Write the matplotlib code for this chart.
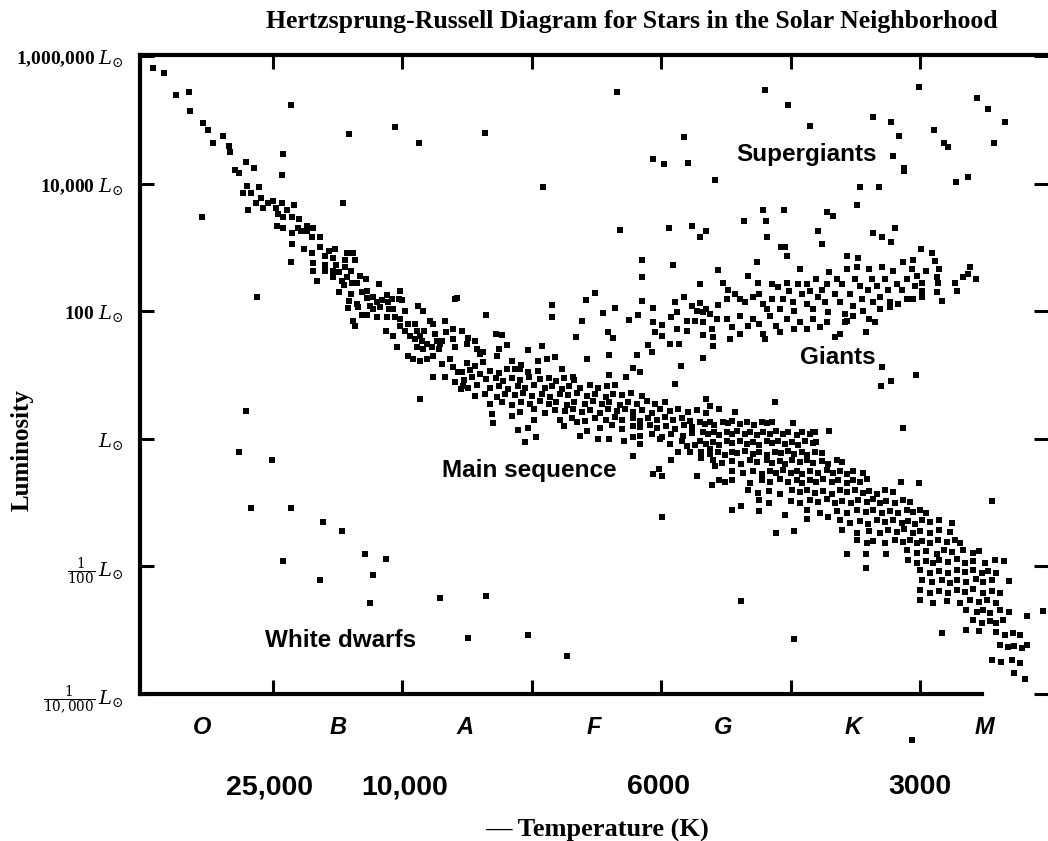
import numpy as np
import matplotlib
matplotlib.use('Agg')
import matplotlib.pyplot as plt
import matplotlib.transforms as mtransforms
from matplotlib.ticker import FixedLocator, NullLocator

plt.rcParams['mathtext.fontset'] = 'dejavuserif'

# spectral position (O=0 .. M=7, one unit per class) and log10(L / Lsun)
ms_upper = [
    (0.07, 5.81), (0.16, 5.73), (0.25, 5.39), (0.35, 5.44), (0.36, 5.14), (0.46, 4.95), (0.50, 4.84), (0.61, 4.75),
    (0.54, 4.63), (0.66, 4.59), (0.67, 4.50), (0.79, 4.34), (0.71, 4.22), (0.74, 4.16), (0.85, 4.25), (0.80, 3.97),
    (0.77, 3.86), (0.83, 3.86), (0.89, 3.95), (0.81, 3.58), (0.87, 3.70), (0.91, 3.78), (0.92, 3.61), (0.96, 3.70),
    (1.00, 3.73), (1.02, 3.61), (1.04, 3.53), (1.07, 3.69), (1.08, 3.47), (1.11, 3.58), (1.16, 3.67), (1.15, 3.47),
    (1.20, 3.45), (1.03, 3.34), (1.08, 3.31), (1.15, 3.22), (1.19, 3.31), (1.22, 3.25), (1.26, 3.34), (1.26, 3.25),
    (1.31, 3.30), (1.30, 3.16), (1.36, 3.16), (1.15, 3.05), (1.24, 2.98), (1.30, 2.92), (1.36, 3.00), (1.14, 2.77),
    (1.31, 2.75), (1.31, 2.63), (1.34, 2.47), (1.40, 2.86), (1.40, 2.73), (1.43, 2.94), (1.48, 2.98), (1.46, 2.84),
    (1.49, 2.73), (1.40, 2.63), (1.46, 2.63), (1.46, 2.53), (1.51, 2.61), (1.53, 2.47), (1.57, 2.92), (1.62, 2.92),
    (1.63, 2.80), (1.56, 2.81), (1.56, 2.69), (1.60, 2.63), (1.57, 2.53), (1.61, 2.45), (1.67, 2.55), (1.72, 2.50),
    (1.65, 2.45), (1.55, 2.41), (1.51, 2.30), (1.60, 2.27), (1.59, 2.16), (1.58, 2.05), (1.65, 2.11), (1.66, 2.06),
    (1.69, 2.30), (1.73, 2.31), (1.73, 2.20), (1.77, 2.23), (1.82, 2.42), (1.80, 2.14), (1.75, 2.08), (1.77, 2.03),
    (1.83, 2.06), (1.84, 2.17), (1.88, 2.25), (1.89, 2.14), (1.92, 2.19), (1.93, 2.03), (1.97, 2.19), (1.98, 2.31),
    (2.00, 2.17), (2.02, 2.00), (1.90, 2.03), (1.69, 1.94), (1.73, 1.94), (1.80, 1.91), (1.88, 1.91), (1.94, 1.91),
    (1.98, 1.88), (1.62, 1.84), (1.63, 1.77), (1.87, 1.69), (1.93, 1.61), (1.96, 1.44), (1.98, 1.77), (2.02, 1.69),
    (2.04, 1.80), (2.06, 1.61), (2.10, 1.80), (2.12, 2.08), (2.16, 2.00), (2.11, 1.69), (2.10, 1.56), (2.14, 1.61),
    (2.15, 1.53), (2.17, 1.69), (2.19, 1.48), (2.21, 1.84), (2.24, 1.80), (2.25, 1.64), (2.27, 1.53), (2.29, 1.48),
    (2.33, 1.84), (2.34, 1.67), (2.39, 1.72), (2.39, 1.56), (2.41, 2.19), (2.11, 1.44), (2.16, 1.41), (2.23, 1.44),
    (2.28, 1.41), (2.31, 1.53), (2.41, 1.44),
]

ms_middle = [
    (2.04, 1.30), (2.08, 1.25), (2.14, 1.22), (2.19, 1.25), (2.24, 1.30), (2.31, 1.17), (2.37, 1.25), (2.39, 1.13),
    (2.43, 1.05), (2.41, 0.89), (2.45, 0.78), (2.47, 0.83), (2.24, 0.97), (2.33, 0.97), (2.14, 0.63),
    (2.46, 1.69), (2.50, 1.48), (2.56, 1.53), (2.58, 1.41), (2.62, 1.36), (2.72, 1.64), (2.77, 1.63), (2.81, 1.47),
    (2.75, 1.41), (2.73, 1.30), (2.51, 1.58), (2.60, 1.33), (2.85, 1.22), (2.81, 1.09), (2.87, 1.09), (2.42, 2.20),
    (2.65, 1.94),
    (2.50, 1.19), (2.56, 1.14), (2.62, 1.20), (2.92, 1.15),
    (2.46, 1.04), (2.52, 1.08), (2.60, 1.02), (2.68, 1.07), (2.75, 1.03), (2.91, 1.09), (2.97, 1.04), (3.05, 1.07),
    (2.48, 0.92), (2.54, 0.97), (2.65, 0.93), (2.72, 0.96), (2.78, 0.91), (2.85, 0.95), (2.91, 0.92), (2.98, 0.97),
    (3.06, 0.93), (3.13, 0.96), (3.19, 0.91), (3.25, 0.95), (3.33, 0.92),
    (2.51, 0.79), (2.58, 0.84), (2.68, 0.80), (2.75, 0.83), (2.82, 0.78), (2.89, 0.82), (2.95, 0.79), (3.02, 0.84),
    (3.10, 0.80), (3.16, 0.83), (3.23, 0.78), (3.29, 0.82), (3.37, 0.80), (3.45, 0.84), (3.51, 0.79), (3.58, 0.82),
    (2.56, 0.67), (2.64, 0.71), (2.73, 0.66), (2.79, 0.70), (2.87, 0.68), (2.93, 0.72), (3.00, 0.67), (3.08, 0.70),
    (3.14, 0.66), (3.22, 0.71), (3.28, 0.68), (3.35, 0.72), (3.43, 0.67), (3.49, 0.70), (3.57, 0.66), (3.63, 0.71),
    (3.70, 0.68), (3.77, 0.72), (3.85, 0.67),
    (2.68, 0.54), (2.77, 0.58), (2.85, 0.53), (2.92, 0.57), (2.99, 0.55), (3.06, 0.59), (3.13, 0.54), (3.19, 0.57),
    (3.27, 0.53), (3.33, 0.58), (3.41, 0.55), (3.47, 0.59), (3.54, 0.54), (3.60, 0.57), (3.68, 0.53), (3.74, 0.58),
    (3.81, 0.55), (3.89, 0.59), (3.95, 0.54), (4.03, 0.57),
    (2.91, 0.42), (3.02, 0.46), (3.10, 0.41), (3.18, 0.45), (3.26, 0.43), (3.32, 0.47), (3.39, 0.42), (3.45, 0.45),
    (3.53, 0.41), (3.59, 0.46), (3.66, 0.43), (3.72, 0.47), (3.78, 0.42), (3.85, 0.45), (3.93, 0.41), (3.99, 0.46),
    (4.07, 0.43), (4.13, 0.47), (4.21, 0.42), (4.28, 0.45), (4.35, 0.41),
    (3.22, 0.29), (3.31, 0.33), (3.41, 0.28), (3.49, 0.32), (3.57, 0.30), (3.64, 0.34), (3.70, 0.29), (3.78, 0.33),
    (3.84, 0.28), (3.90, 0.32), (3.97, 0.30), (4.03, 0.34), (4.09, 0.29), (4.16, 0.32), (4.22, 0.28),
    (3.53, 0.17), (3.62, 0.21), (3.70, 0.16), (3.78, 0.20), (3.84, 0.18), (3.91, 0.22), (3.97, 0.17), (4.04, 0.20),
    (4.11, 0.16), (4.18, 0.21), (4.24, 0.18),
    (3.84, 0.04), (3.93, 0.08), (4.01, 0.03), (4.08, 0.07), (4.17, 0.05), (4.24, 0.09),
    (4.07, -0.08), (4.16, -0.04), (4.26, -0.09),
    (2.69, 0.39), (2.70, 0.25), (2.85, 0.36), (2.89, 0.14), (2.97, 0.17), (2.95, -0.05), (3.03, 0.03), (3.02, 0.30),
    (3.25, 0.20), (3.35, 0.27), (3.37, 0.05), (3.43, 0.13), (3.51, 0.00), (3.60, 0.00), (3.71, -0.03), (3.78, 0.03),
    (3.84, -0.08), (3.78, -0.27), (3.99, 0.00), (4.08, -0.33), (4.20, -0.11), (4.13, -0.20), (4.22, -0.20),
    (4.31, -0.30), (4.38, -0.16), (4.42, -0.42), (4.28, -0.58), (4.39, -0.73), (3.94, -0.55), (3.98, -0.47),
    (4.01, -0.59), (4.01, -1.22), (4.35, 0.63), (4.38, 0.52),
]

ms_lower = [
    (4.30, 0.27), (4.34, 0.23), (4.38, 0.26), (4.41, 0.22), (4.48, 0.27), (4.52, 0.24), (4.55, 0.28), (4.61, 0.23),
    (4.66, 0.26), (4.72, 0.22), (4.78, 0.27), (4.82, 0.24), (4.86, 0.26),
    (4.32, 0.11), (4.36, 0.07), (4.41, 0.10), (4.45, 0.06), (4.51, 0.11), (4.55, 0.08), (4.59, 0.12), (4.65, 0.07),
    (4.69, 0.10), (4.74, 0.06), (4.79, 0.11), (4.84, 0.08), (4.89, 0.12), (4.94, 0.07), (4.98, 0.10), (5.05, 0.06),
    (5.09, 0.11), (5.15, 0.08), (5.19, 0.10),
    (4.30, -0.04), (4.35, -0.08), (4.40, -0.05), (4.45, -0.09), (4.51, -0.04), (4.55, -0.07), (4.61, -0.03),
    (4.66, -0.08), (4.71, -0.05), (4.76, -0.09), (4.82, -0.04), (4.86, -0.07), (4.90, -0.03), (4.96, -0.08),
    (5.01, -0.05), (5.06, -0.09), (5.11, -0.04), (5.17, -0.07), (5.20, -0.05),
    (4.31, -0.20), (4.38, -0.24), (4.44, -0.21), (4.49, -0.25), (4.55, -0.20), (4.59, -0.23), (4.65, -0.19),
    (4.71, -0.24), (4.76, -0.21), (4.82, -0.25), (4.88, -0.20), (4.93, -0.23), (4.98, -0.19), (5.03, -0.24),
    (5.09, -0.21), (5.13, -0.25), (5.19, -0.20), (5.24, -0.23),
    (4.40, -0.34), (4.47, -0.38), (4.55, -0.35), (4.62, -0.39), (4.69, -0.34), (4.74, -0.37), (4.82, -0.33),
    (4.86, -0.38), (4.92, -0.35), (4.96, -0.39), (5.01, -0.34), (5.07, -0.37), (5.13, -0.33), (5.17, -0.38),
    (5.24, -0.35), (5.29, -0.39), (5.36, -0.34), (5.40, -0.37),
    (4.55, -0.50), (4.63, -0.54), (4.71, -0.51), (4.78, -0.55), (4.84, -0.50), (4.89, -0.53), (4.94, -0.49),
    (5.00, -0.54), (5.05, -0.51), (5.09, -0.55), (5.15, -0.50), (5.21, -0.53), (5.28, -0.49), (5.33, -0.54),
    (5.38, -0.51), (5.44, -0.55), (5.48, -0.50), (5.56, -0.53),
    (4.45, -0.64), (4.49, -0.68), (4.55, -0.65), (4.69, -0.69), (4.78, -0.64), (4.84, -0.67), (4.92, -0.63),
    (4.98, -0.68), (5.05, -0.65), (5.09, -0.69), (5.15, -0.64), (5.20, -0.67), (5.25, -0.63), (5.32, -0.68),
    (5.37, -0.65), (5.44, -0.69), (5.48, -0.64), (5.54, -0.67), (5.59, -0.63), (5.85, -0.68),
    (4.67, -0.81), (4.75, -0.85), (4.83, -0.82), (4.92, -0.86), (5.01, -0.81), (5.07, -0.84), (5.13, -0.80),
    (5.19, -0.85), (5.25, -0.82), (5.32, -0.86), (5.38, -0.81), (5.44, -0.84), (5.50, -0.80), (5.56, -0.85),
    (5.61, -0.82), (5.67, -0.86), (5.73, -0.81), (5.79, -0.84),
    (4.76, -0.96), (4.83, -1.00), (5.00, -0.97), (5.07, -1.01), (5.15, -0.96), (5.21, -0.99), (5.28, -0.95),
    (5.34, -1.00), (5.40, -0.97), (5.47, -1.01), (5.52, -0.96), (5.59, -0.99), (5.64, -0.95), (5.69, -1.00),
    (5.74, -0.97), (5.81, -1.01), (5.87, -0.96), (5.92, -0.99),
    (5.13, -1.12), (5.23, -1.16), (5.36, -1.13), (5.44, -1.17), (5.51, -1.12), (5.58, -1.15), (5.64, -1.11),
    (5.71, -1.16), (5.77, -1.13), (5.83, -1.17), (5.90, -1.12), (5.95, -1.15), (6.00, -1.11), (6.05, -1.16),
    (5.38, -1.28), (5.46, -1.32), (5.54, -1.29), (5.60, -1.33), (5.67, -1.28), (5.73, -1.31), (5.79, -1.27),
    (5.86, -1.32), (5.91, -1.29), (5.96, -1.33), (6.02, -1.28), (6.08, -1.31), (6.15, -1.27), (6.25, -1.32),
    (5.40, -1.43), (5.51, -1.47), (5.61, -1.44), (5.69, -1.48), (5.75, -1.43), (5.82, -1.46), (5.88, -1.42),
    (5.95, -1.47), (6.00, -1.44), (6.08, -1.48), (6.15, -1.43), (6.23, -1.46),
    (5.51, -1.59), (5.59, -1.63), (5.64, -1.60), (5.73, -1.64), (5.81, -1.59), (5.87, -1.62), (5.92, -1.58),
    (5.98, -1.63), (6.02, -1.60), (6.08, -1.64), (6.14, -1.59), (6.21, -1.62), (6.27, -1.58), (6.31, -1.63),
    (5.90, -1.75), (5.98, -1.79), (6.05, -1.76), (6.13, -1.80), (6.19, -1.75), (6.25, -1.78), (6.33, -1.74),
    (6.41, -1.79), (6.46, -1.76),
    (5.91, -1.90), (5.98, -1.94), (6.05, -1.91), (6.10, -1.95), (6.15, -1.90), (6.22, -1.93), (6.29, -1.89),
    (6.35, -1.94), (6.41, -1.91), (6.50, -1.95), (6.58, -1.90),
    (6.00, -2.06), (6.08, -2.10), (6.15, -2.07), (6.22, -2.11), (6.29, -2.06), (6.35, -2.09), (6.41, -2.05),
    (6.48, -2.10), (6.53, -2.07), (6.59, -2.11),
    (6.02, -2.21), (6.09, -2.25), (6.17, -2.22), (6.23, -2.26), (6.29, -2.21), (6.36, -2.24), (6.43, -2.20),
    (6.49, -2.25), (6.56, -2.22),
    (6.00, -2.37), (6.08, -2.41), (6.15, -2.38), (6.22, -2.42), (6.29, -2.37), (6.35, -2.40), (6.41, -2.36),
    (6.49, -2.41), (6.56, -2.38), (6.62, -2.42),
    (6.00, -2.53), (6.10, -2.57), (6.21, -2.54), (6.31, -2.58), (6.39, -2.53), (6.46, -2.56), (6.52, -2.52),
    (6.59, -2.57),
    (6.36, -2.68), (6.44, -2.72), (6.49, -2.69), (6.54, -2.73), (6.62, -2.68), (6.69, -2.71),
    (6.41, -2.84), (6.48, -2.88), (6.54, -2.85), (6.59, -2.89), (6.64, -2.84),
    (6.59, -3.03), (6.66, -3.07), (6.72, -3.04), (6.77, -3.08),
    (6.62, -3.23), (6.68, -3.27), (6.73, -3.24), (6.79, -3.28), (6.83, -3.23),
    (6.56, -3.46), (6.63, -3.50), (6.71, -3.47), (6.77, -3.51), (6.73, -3.67), (6.81, -3.77),
    (4.88, 0.58), (4.45, 0.47), (4.57, 0.42), (5.02, 0.25), (5.17, 0.11), (5.30, 0.13), (4.55, -1.11),
    (4.62, -1.06), (4.76, -1.13), (4.89, -1.47), (5.03, -1.44), (4.96, -1.20), (5.13, -1.25), (5.29, -1.22),
    (5.44, -1.81), (5.58, -1.80), (5.58, -2.02), (5.74, -1.80), (5.99, -0.69), (6.17, -3.05), (6.36, -3.00),
    (6.46, -3.02), (6.65, -1.92), (6.69, -2.23), (6.83, -2.77), (6.95, -2.70), (6.56, -0.97), (5.87, 0.17),
    (5.97, 1.00), (5.71, 1.13), (5.78, 0.91), (5.70, 0.83),
]

giants = [
    (3.85, 2.80), (4.09, 2.72), (4.44, 2.64), (3.85, 2.53), (4.30, 2.42), (3.49, 2.28), (3.42, 2.17), (3.16, 2.09),
    (3.16, 1.91), (3.55, 1.97), (3.64, 2.05), (3.85, 2.16), (3.82, 1.94), (3.75, 1.86), (3.94, 2.05), (3.94, 1.83),
    (4.01, 1.78), (3.95, 1.67), (4.11, 2.14), (4.18, 2.23), (4.12, 1.98), (4.08, 1.91), (4.24, 2.08), (4.30, 2.13),
    (4.28, 2.00), (4.32, 1.98), (4.38, 1.95), (4.43, 1.88), (4.20, 1.84), (4.26, 1.84), (4.32, 1.83), (4.12, 1.72),
    (4.20, 1.69), (4.39, 1.72), (4.40, 1.59), (4.40, 1.45), (4.14, 1.48), (4.07, 1.48), (3.90, 1.47), (3.93, 1.36),
    (3.63, 1.58), (3.59, 1.67), (3.34, 1.59), (3.39, 1.84), (3.43, 1.25), (3.60, 1.31), (3.81, 1.31), (4.32, 1.27),
    (4.15, 1.14), (3.78, 1.11), (3.84, 1.05), (3.60, 1.00), (3.73, 0.97), (4.11, 0.86), (3.64, 0.84), (3.32, 0.97),
    (3.23, 1.09), (3.18, 1.28), (3.12, 1.25), (3.05, 1.22), (2.97, 1.39), (3.08, 1.45), (4.01, 1.61), (4.32, 1.63),
    (4.35, 2.03), (4.44, 2.09),
    (4.53, 1.56), (4.51, 1.88), (4.55, 1.75), (4.61, 1.64), (4.61, 1.92), (4.67, 1.77), (4.71, 1.88), (4.76, 1.80),
    (4.79, 1.64), (4.80, 1.56), (4.84, 1.92), (4.89, 1.77), (4.92, 1.67), (4.97, 1.88), (5.03, 1.72), (5.07, 1.83),
    (5.13, 1.72), (5.17, 1.88), (5.23, 1.75), (5.28, 1.83), (5.38, 1.64), (5.42, 1.83), (5.48, 1.92), (5.58, 1.67),
    (5.61, 1.88), (5.65, 1.83), (5.69, 2.03), (5.77, 2.14), (5.83, 2.11), (5.90, 2.19), (5.95, 2.19), (6.02, 2.31),
    (6.17, 2.16), (6.13, 2.53),
    (4.48, 2.45), (4.52, 2.34), (4.51, 2.19), (4.57, 2.27), (4.61, 2.19), (4.65, 2.14), (4.67, 2.55), (4.74, 2.77),
    (4.75, 2.45), (4.71, 2.23), (4.76, 2.27), (4.79, 2.11), (4.82, 2.03), (4.86, 2.42), (4.86, 2.19), (4.90, 2.38),
    (4.92, 2.03), (4.94, 2.19), (4.97, 2.45), (4.96, 3.00), (4.97, 2.86), (4.99, 2.31), (5.02, 2.14), (5.03, 2.00),
    (5.06, 2.42), (5.07, 2.66), (5.09, 2.27), (5.13, 2.42), (5.13, 2.11), (5.15, 2.31), (5.17, 2.03), (5.20, 2.50),
    (5.21, 2.23), (5.24, 2.34), (5.27, 2.14), (5.28, 2.42), (5.29, 1.98), (5.30, 2.61), (5.34, 2.27), (5.36, 2.50),
    (5.38, 2.14), (5.40, 2.42), (5.42, 1.95), (5.44, 2.66), (5.44, 2.86), (5.46, 2.27), (5.48, 2.08), (5.50, 2.50),
    (5.51, 2.70), (5.52, 2.84), (5.54, 2.39), (5.55, 2.19), (5.56, 2.00), (5.60, 2.34), (5.61, 2.66), (5.63, 2.50),
    (5.64, 2.14), (5.67, 2.39), (5.69, 2.23), (5.71, 2.70), (5.73, 2.50), (5.75, 2.34), (5.77, 2.06), (5.79, 2.63),
    (5.82, 2.42), (5.86, 2.34), (5.87, 2.77), (5.90, 2.50), (5.94, 2.66), (5.95, 2.81), (5.96, 2.39), (5.98, 2.55),
    (6.02, 2.22), (6.02, 2.45), (6.05, 2.63), (6.09, 2.92), (6.12, 2.78), (6.14, 2.45), (6.15, 2.66), (6.13, 2.30),
    (6.27, 2.45), (6.29, 2.31), (6.33, 2.53), (6.37, 2.58), (6.39, 2.70), (6.43, 2.50), (5.44, 1.84), (5.34, 1.59),
]

supergiants = [
    (3.68, 3.27), (4.06, 3.30), (4.24, 3.33), (4.30, 3.17), (4.35, 3.25), (4.82, 3.17), (4.93, 3.00), (5.21, 3.25),
    (5.24, 3.06), (5.64, 3.22), (5.71, 3.16), (5.78, 3.09), (5.81, 3.31), (6.01, 2.97),
    (5.99, 5.52), (6.44, 5.34), (6.53, 5.17), (6.66, 4.97), (6.57, 4.64), (5.64, 5.05), (5.78, 4.97), (5.84, 4.75),
    (6.11, 4.84), (6.19, 4.63), (6.22, 4.58), (5.79, 4.44), (5.88, 4.25), (5.88, 4.19), (6.28, 4.02), (6.37, 4.11),
    (5.54, 3.95), (5.68, 3.94), (5.51, 3.67),
    (2.64, 4.80), (3.09, 3.94), (3.66, 5.44), (3.94, 4.38), (4.02, 4.31), (4.21, 4.33), (4.18, 4.73), (4.42, 4.06),
    (4.80, 5.47), (4.98, 5.23), (5.15, 4.91), (4.79, 3.59), (4.81, 3.41), (4.95, 3.59), (4.64, 3.41), (5.28, 3.56),
    (5.33, 3.50),
    (1.14, 5.23), (1.08, 4.47), (1.07, 4.13), (1.59, 4.77), (1.94, 4.89), (2.13, 4.64), (1.54, 3.69),
]

faint_stars = [
    (0.45, 3.47), (0.88, 2.22), (0.79, 0.44), (0.74, -0.20), (0.99, -0.33), (0.83, -1.08), (1.14, -1.08),
    (1.39, -1.30), (1.53, -1.45), (1.08, -1.91), (1.36, -2.22), (1.71, -1.81), (1.87, -1.88), (1.77, -2.14),
    (1.75, -2.58), (2.29, -2.50), (2.65, -2.47), (2.51, -3.13), (2.97, -3.08), (3.27, -3.41), (4.62, -2.55),
    (5.03, -3.14),
]
below_axis = [(5.94, -4.72)]

spectral_classes = ['O', 'B', 'A', 'F', 'G', 'K', 'M']
class_centers = [0.45, 1.5, 2.48, 3.48, 4.48, 5.48, 6.5]
class_edges = [1, 2, 3, 4, 5, 6]
temp_labels = ['25,000', '10,000', '6000', '3000']
temp_positions = [0.97, 2.02, 3.98, 6.0]
lum_ticks = [1e-4, 1e-2, 1, 1e2, 1e4, 1e6]
lum_labels = [r'$\frac{1}{10,000}\,L_{\odot}$', r'$\frac{1}{100}\,L_{\odot}$', r'$L_{\odot}$',
              r'100 $L_{\odot}$', r'10,000 $L_{\odot}$', r'1,000,000 $L_{\odot}$']

fig = plt.figure(figsize=(10.48, 8.41), dpi=100)
ax = fig.add_axes([140 / 1048, 147 / 841, 908 / 1048, 639 / 841])


def plot_stars(group, clip=True):
    arr = np.array(group)
    ax.scatter(arr[:, 0], 10.0 ** arr[:, 1], s=15, marker='s', c='black',
               linewidths=0, clip_on=clip, zorder=3)


for grp in (ms_upper, ms_middle, ms_lower, giants, supergiants, faint_stars):
    plot_stars(grp)
plot_stars(below_axis, clip=False)

ax.set_yscale('log')
ax.set_xlim(-0.028, 6.99)
ax.set_ylim(10 ** -4.0, 10 ** 6.016)

ax.spines['right'].set_visible(False)
for side in ('left', 'top', 'bottom'):
    ax.spines[side].set_linewidth(3.0)
ax.spines['bottom'].set_bounds(-0.028, 6.48)

ax.xaxis.set_major_locator(FixedLocator(class_edges))
ax.xaxis.set_minor_locator(NullLocator())
ax.set_xticklabels([])
ax.yaxis.set_major_locator(FixedLocator(lum_ticks))
ax.yaxis.set_minor_locator(NullLocator())
ax.set_yticklabels(lum_labels, fontfamily='Liberation Serif', fontweight='bold', fontsize=14)
ax.tick_params(axis='both', which='major', direction='in', length=10, width=2.2,
               top=True, right=True, bottom=True, left=True, pad=12)
ax.tick_params(axis='y', which='major', labelright=False)

xform = mtransforms.blended_transform_factory(ax.transData, ax.transAxes)
for name, pos in zip(spectral_classes, class_centers):
    ax.text(pos, -0.052, name, transform=xform, ha='center', va='center',
            fontfamily='Liberation Sans', fontweight='bold', fontstyle='italic', fontsize=17)
for lab, pos in zip(temp_labels, temp_positions):
    ax.text(pos, -0.146, lab, transform=xform, ha='center', va='center',
            fontfamily='Liberation Sans', fontweight='bold', fontsize=20.5)

# region names
region_font = dict(fontfamily='Liberation Sans', fontweight='bold', fontsize=17.5,
                   ha='left', va='center')
ax.text(4.58, 10 ** 4.45, 'Supergiants', **region_font)
ax.text(5.07, 10 ** 1.27, 'Giants', **region_font)
ax.text(2.31, 10 ** -0.50, 'Main sequence', **region_font)
ax.text(0.94, 10 ** -3.16, 'White dwarfs', **region_font)

fig.text(0.603, 0.974, 'Hertzsprung-Russell Diagram for Stars in the Solar Neighborhood',
         ha='center', va='center', fontfamily='Liberation Serif', fontweight='bold', fontsize=18.5)
fig.text(0.57, 0.013, '\u2014 Temperature (K)', ha='center', va='center',
         fontfamily='Liberation Serif', fontweight='bold', fontsize=19)
fig.text(0.021, 0.465, 'Luminosity', rotation=90, ha='center', va='center',
         fontfamily='Liberation Serif', fontweight='bold', fontsize=18)

fig.savefig('out.png', dpi=100)
